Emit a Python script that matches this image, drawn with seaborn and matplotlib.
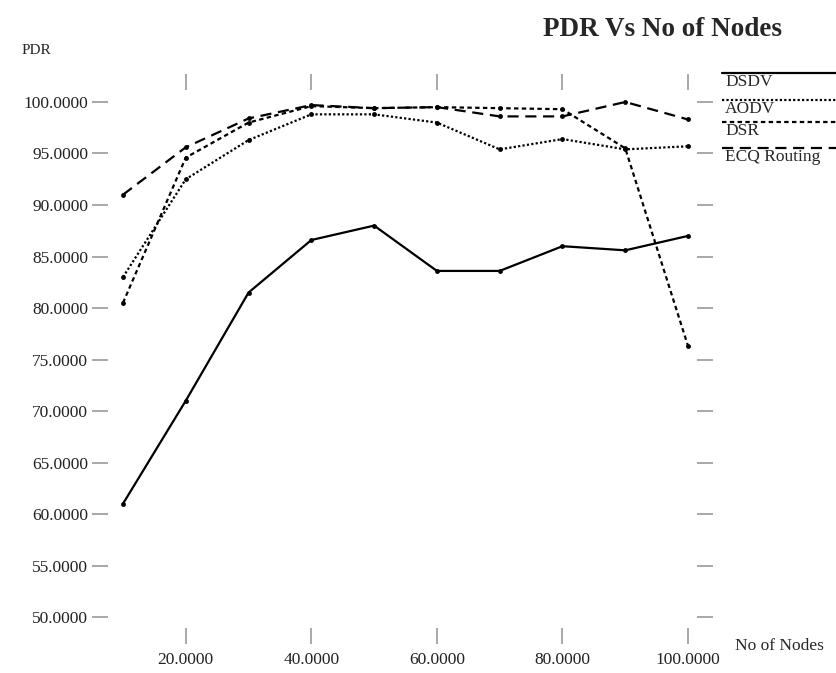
import numpy as np
import pandas as pd
import seaborn as sns
import matplotlib.pyplot as plt
from matplotlib.lines import Line2D
from matplotlib.ticker import FormatStrFormatter

nodes = [10, 20, 30, 40, 50, 60, 70, 80, 90, 100]
dsdv = [61.0, 71.0, 81.5, 86.6, 88.0, 83.6, 83.6, 86.0, 85.6, 87.0]
aodv = [83.0, 92.5, 96.3, 98.8, 98.8, 98.0, 95.4, 96.4, 95.4, 95.7]
dsr = [80.5, 94.6, 98.0, 99.6, 99.4, 99.5, 99.4, 99.3, 95.5, 76.3]
ecq = [91.0, 95.6, 98.4, 99.7, 99.4, 99.5, 98.6, 98.6, 100.0, 98.3]

series_names = ['DSDV', 'AODV', 'DSR', 'ECQ Routing']
series_vals = [dsdv, aodv, dsr, ecq]
dash_styles = ['-', (0, (1, 1)), (0, (2, 1.5)), (0, (5, 3))]

sns.set_style('white')
plt.rcParams['font.family'] = ['Liberation Serif', 'DejaVu Serif']

fig = plt.figure(figsize=(8.37, 6.73), dpi=100)
W, H = 837, 673
# axes box in pixels: left 100, right 705, top 82, bottom 636
ax = fig.add_axes([100 / W, 1 - 636 / H, 605 / W, 554 / H])

for name, vals, ls in zip(series_names, series_vals, dash_styles):
    sns.lineplot(x=nodes, y=vals, ax=ax, color='black', linestyle=ls,
                 linewidth=1.6, marker='o', markersize=3.5, markeredgewidth=0)

ax.set_xlim(6.34, 102.7)
ax.set_ylim(48.16, 101.94)
ax.set_xticks([20, 40, 60, 80, 100])
ax.set_yticks(np.arange(50, 101, 5))
ax.xaxis.set_major_formatter(FormatStrFormatter('%.4f'))
ax.yaxis.set_major_formatter(FormatStrFormatter('%.4f'))
for s in ax.spines.values():
    s.set_visible(False)
ax.tick_params(axis='both', direction='inout', length=11, width=1.2,
               color='#999999', labelsize=12.5, labelcolor='#222222',
               left=True, right=True, top=True, bottom=True)
ax.tick_params(axis='y', pad=3)
ax.tick_params(axis='x', pad=6)

fig.text(543 / W, 1 - 30 / H, 'PDR Vs No of Nodes', fontsize=19.5,
         fontweight='bold', va='center', ha='left')
fig.text(22 / W, 1 - 50 / H, 'PDR', fontsize=11, va='center', ha='left')
fig.text(735 / W, 1 - 646 / H, 'No of Nodes', fontsize=12.5, va='center', ha='left')

# legend: line above each label, xgraph style
leg_line_y = [73, 100, 122, 148]
for name, ls, ly in zip(series_names, dash_styles, leg_line_y):
    fig.add_artist(Line2D([722 / W, 1.0], [1 - ly / H, 1 - ly / H],
                          transform=fig.transFigure, color='black',
                          linestyle=ls, linewidth=1.6))
    fig.text(725 / W, 1 - (ly + 9) / H, name, fontsize=12.5, va='center', ha='left')

fig.savefig('out.png', dpi=100)
